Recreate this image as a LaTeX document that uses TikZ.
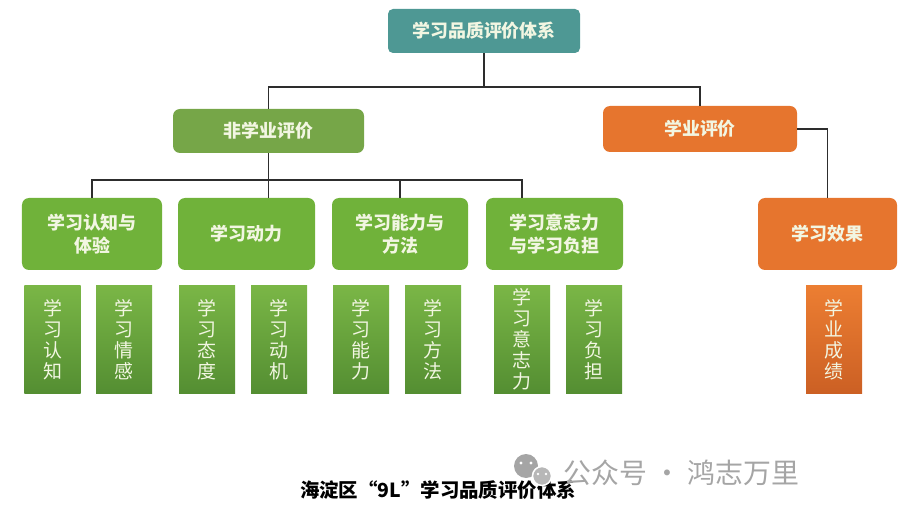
\documentclass[tikz,border=0pt]{standalone}
\usepackage{fontspec}
\setmainfont{Noto Sans CJK SC}
\definecolor{teal1}{RGB}{78,152,148}
\definecolor{green1}{RGB}{118,166,72}
\definecolor{green2}{RGB}{112,178,58}
\definecolor{leaftop}{RGB}{122,182,70}
\definecolor{leafbot}{RGB}{84,142,50}
\definecolor{orange1}{RGB}{230,117,46}
\definecolor{orangetop}{RGB}{236,126,50}
\definecolor{orangebot}{RGB}{204,96,36}
\definecolor{boxtext}{RGB}{242,246,226}
\definecolor{linegray}{RGB}{45,45,45}
\definecolor{markgray}{RGB}{165,165,165}

\begin{document}
\begin{tikzpicture}[x=1bp,y=-1bp,
  box/.style={rounded corners=7bp, text=boxtext, align=center, inner sep=0pt,
    font=\bfseries\fontsize{18}{23}\selectfont},
  leaf/.style={text=boxtext, align=center, inner sep=0pt,
    minimum width=56bp, minimum height=107bp, font=\fontsize{19}{21}\selectfont},
  link/.style={draw=linegray, line width=1.6bp}]
  \useasboundingbox (0,0) rectangle (918,525);

  %% top
  \node[box, fill=teal1, rounded corners=5bp, minimum width=192bp, minimum height=44bp]
    (top) at (484,31) {学习品质评价体系};

  %% second level
  \node[box, fill=green1, minimum width=191bp, minimum height=44bp]
    (nonacad) at (268.5,131) {非学业评价};
  \node[box, fill=orange1, minimum width=194bp, minimum height=46bp]
    (acad) at (700,129) {学业评价};

  %% third level
  \node[box, fill=green2, minimum width=140bp, minimum height=72bp]
    (cog) at (92,234) {学习认知与\\体验};
  \node[box, fill=green2, minimum width=137bp, minimum height=72bp]
    (motiv) at (246.5,234) {学习动力};
  \node[box, fill=green2, minimum width=136bp, minimum height=72bp]
    (ability) at (400,234) {学习能力与\\方法};
  \node[box, fill=green2, minimum width=137bp, minimum height=72bp]
    (will) at (554.5,234) {学习意志力\\与学习负担};
  \node[box, fill=orange1, minimum width=139bp, minimum height=72bp]
    (effect) at (827.5,234) {学习效果};

  %% leaves
  \node[leaf, top color=leaftop, bottom color=leafbot] (cog1) at (52.5,339.5) {学\\习\\认\\知};
  \node[leaf, top color=leaftop, bottom color=leafbot] (cog2) at (124,339.5) {学\\习\\情\\感};
  \node[leaf, top color=leaftop, bottom color=leafbot] (mot1) at (207,339.5) {学\\习\\态\\度};
  \node[leaf, top color=leaftop, bottom color=leafbot] (mot2) at (279,339.5) {学\\习\\动\\机};
  \node[leaf, top color=leaftop, bottom color=leafbot] (abl1) at (361,339.5) {学\\习\\能\\力};
  \node[leaf, top color=leaftop, bottom color=leafbot] (abl2) at (433,339.5) {学\\习\\方\\法};
  \node[leaf, top color=leaftop, bottom color=leafbot] (wil1) at (522,339.5) {学\\习\\意\\志\\力};
  \node[leaf, top color=leaftop, bottom color=leafbot] (wil2) at (594,339.5) {学\\习\\负\\担};
  \node[leaf, top color=orangetop, bottom color=orangebot] (eff1) at (834,339.5) {学\\业\\成\\绩};

  %% connectors
  \coordinate (split) at (484,87);
  \coordinate (split2) at (267,180);
  \draw[link] (top.south) -- (split);
  \draw[link] (nonacad.north) |- (split) -| (acad.north);
  \draw[link] (nonacad.south) -- (nonacad.south |- motiv.north);
  \draw[link] (cog.north) |- (split2) -| ([xshift=-32.5bp]will.north);
  \draw[link] (ability.north) -- (ability.north |- split2);
  \draw[link] (acad.east) -| (effect.north);

  %% caption
  \node[font=\bfseries\fontsize{19.5}{22}\selectfont] (caption) at (438,490)
    {海淀区“9L”学习品质评价体系};

  %% watermark
  \fill[markgray] (526,466) circle (12);
  \draw[fill=markgray!80, draw=white, line width=1.5bp] (542,476) circle (9.5);
  \fill[white] (521,463) circle (1.6) (531,463) circle (1.6)
    (538,474) circle (1.3) (546,474) circle (1.3);
  \node[text=markgray, font=\fontsize{28}{30}\selectfont, anchor=west] (mark) at (560,473)
    {公众号 · 鸿志万里};
\end{tikzpicture}
\end{document}
